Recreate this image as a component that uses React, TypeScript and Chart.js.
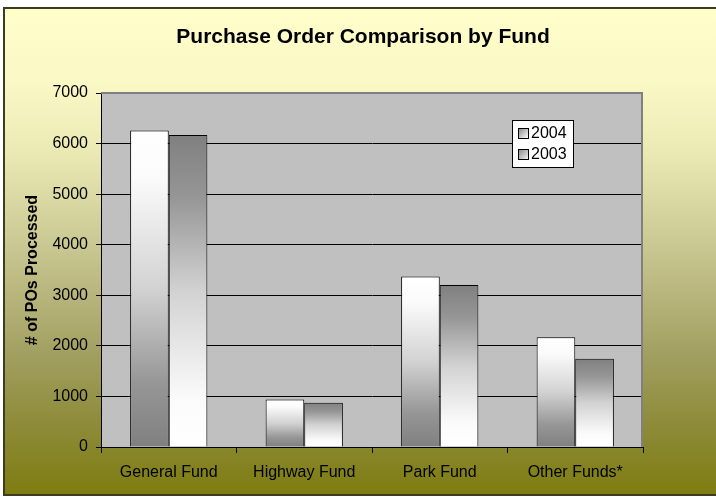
import React, { useEffect, useRef } from "react";
import { Chart, registerables } from "chart.js";

Chart.register(...registerables);

const categories = ["General Fund", "Highway Fund", "Park Fund", "Other Funds*"];
const series2004 = [6260, 940, 3370, 2170];
const series2003 = [6170, 875, 3205, 1745];
const seriesLabels = ["2004", "2003"];
const yTicks = [0, 1000, 2000, 3000, 4000, 5000, 6000, 7000];
const chartTitle = "Purchase Order Comparison by Fund";
const yTitle = "# of POs Processed";

const FONT = "'Liberation Sans', Arial, sans-serif";

function barGradient(ctx: any, lightTop: boolean) {
  const chart = ctx.chart;
  const ys = chart.scales && chart.scales.y;
  if (!ys || ctx.raw === undefined) return "#c0c0c0";
  const top = ys.getPixelForValue(ctx.raw);
  const bottom = ys.getPixelForValue(0);
  if (!isFinite(top) || !isFinite(bottom) || bottom - top < 1) return "#c0c0c0";
  const g = chart.ctx.createLinearGradient(0, top, 0, bottom);
  const stops = [
    [0, "#ffffff"],
    [0.15, "#fbfbfb"],
    [0.5, "#d2d2d2"],
    [0.8, "#969696"],
    [1, "#808080"],
  ] as [number, string][];
  stops.forEach(([p, c]) => g.addColorStop(lightTop ? p : 1 - p, c));
  return g;
}

const decorPlugin = {
  id: "decor",
  beforeDraw(chart: any) {
    const { ctx, width, height } = chart;
    ctx.save();
    ctx.fillStyle = "#ffffff";
    ctx.fillRect(0, 0, width, height);
    const g = ctx.createLinearGradient(0, 8, 0, 495);
    g.addColorStop(0, "#ffffcc");
    g.addColorStop(0.15, "#faf8c5");
    g.addColorStop(0.3, "#ebe9b3");
    g.addColorStop(0.5, "#c8c690");
    g.addColorStop(0.7, "#a3a163");
    g.addColorStop(0.85, "#8e8c3a");
    g.addColorStop(1, "#7e7c10");
    ctx.fillStyle = g;
    ctx.fillRect(4, 8, width - 4, 487);
    ctx.fillStyle = "#3c3c1e";
    ctx.fillRect(3, 7, width - 3, 2);
    ctx.fillRect(3, 7, 2, 489);
    ctx.fillRect(3, 494, width - 3, 2);
    // plot area fill
    const a = chart.chartArea;
    ctx.fillStyle = "#c0c0c0";
    ctx.fillRect(a.left, a.top, a.right - a.left, a.bottom - a.top);
    // chart title
    ctx.fillStyle = "#000000";
    ctx.font = `bold 21px ${FONT}`;
    ctx.textAlign = "center";
    ctx.textBaseline = "middle";
    ctx.fillText(chartTitle, 363, 37);
    // y axis title
    ctx.translate(33, (a.top + a.bottom) / 2);
    ctx.rotate(-Math.PI / 2);
    ctx.font = `bold 16px ${FONT}`;
    ctx.fillText(yTitle, 0, 0);
    ctx.restore();
  },
  afterDatasetsDraw(chart: any) {
    const { ctx } = chart;
    const a = chart.chartArea;
    ctx.save();
    // plot border (top + right) gray
    ctx.strokeStyle = "#808080";
    ctx.lineWidth = 2;
    ctx.beginPath();
    ctx.moveTo(a.left, a.top);
    ctx.lineTo(a.right - 1, a.top);
    ctx.lineTo(a.right - 1, a.bottom);
    ctx.stroke();
    // legend
    const lx = 512, ly = 120, lw = 61, lh = 47;
    ctx.fillStyle = "#ffffff";
    ctx.fillRect(lx, ly, lw, lh);
    ctx.strokeStyle = "#000000";
    ctx.lineWidth = 1;
    ctx.strokeRect(lx + 0.5, ly + 0.5, lw, lh);
    ctx.font = `16px ${FONT}`;
    ctx.textAlign = "left";
    ctx.textBaseline = "middle";
    chart.data.datasets.forEach((ds: any, i: number) => {
      const cy = 133 + i * 21;
      const sx = 518, sy = cy - 5;
      const g = ctx.createLinearGradient(sx, sy, sx + 10, sy + 10);
      if (i === 0) {
        g.addColorStop(0, "#808080");
        g.addColorStop(1, "#ffffff");
      } else {
        g.addColorStop(0, "#808080");
        g.addColorStop(1, "#f0f0f0");
      }
      ctx.fillStyle = g;
      ctx.fillRect(sx, sy, 10, 10);
      ctx.strokeStyle = "#000000";
      ctx.strokeRect(sx + 0.5, sy + 0.5, 10, 10);
      ctx.fillStyle = "#000000";
      ctx.fillText(ds.label, 531, cy + 1);
    });
    ctx.restore();
  },
};

export default function App() {
  const canvasRef = useRef<HTMLCanvasElement | null>(null);

  useEffect(() => {
    if (!canvasRef.current) return;
    const chart = new Chart(canvasRef.current, {
      type: "bar",
      data: {
        labels: categories,
        datasets: [
          {
            label: seriesLabels[0],
            data: series2004,
            backgroundColor: (ctx: any) => barGradient(ctx, true),
            borderColor: "#000000",
            borderWidth: 1,
            barPercentage: 1,
            categoryPercentage: 0.57,
          },
          {
            label: seriesLabels[1],
            data: series2003,
            backgroundColor: (ctx: any) => barGradient(ctx, false),
            borderColor: "#000000",
            borderWidth: 1,
            barPercentage: 1,
            categoryPercentage: 0.57,
          },
        ],
      },
      options: {
        responsive: false,
        animation: false,
        layout: { padding: { left: 0, right: 73, top: 93, bottom: 0 } },
        plugins: {
          legend: { display: false },
          title: { display: false },
          tooltip: { enabled: false },
        },
        scales: {
          x: {
            offset: true,
            grid: {
              offset: true,
              drawOnChartArea: false,
              drawTicks: true,
              tickLength: 6,
              tickColor: "#000000",
            },
            border: { color: "#000000", width: 1 },
            ticks: {
              color: "#000000",
              font: { family: FONT, size: 16 },
              padding: 10,
              maxRotation: 0,
            },
            afterFit: (s: any) => {
              s.height = 50;
            },
          },
          y: {
            min: 0,
            max: 7000,
            afterBuildTicks: (s: any) => {
              s.ticks = yTicks.map((v) => ({ value: v }));
            },
            grid: {
              color: (c: any) => (c.tick && c.tick.value === 7000 ? "rgba(0,0,0,0)" : "#000000"),
              tickColor: "#000000",
              tickLength: 5,
              lineWidth: 1,
            },
            border: { color: "#000000", width: 1 },
            ticks: {
              color: "#000000",
              font: { family: FONT, size: 16 },
              padding: 8,
              callback: (v: any) => String(v),
            },
            afterFit: (s: any) => {
              s.width = 101;
            },
          },
        },
      },
      plugins: [decorPlugin],
    });
    return () => chart.destroy();
  }, []);

  return (
    <div style={{ position: "absolute", left: 0, top: 0, width: 716, height: 497 }}>
      <canvas ref={canvasRef} width={716} height={497} style={{ display: "block" }} />
    </div>
  );
}
